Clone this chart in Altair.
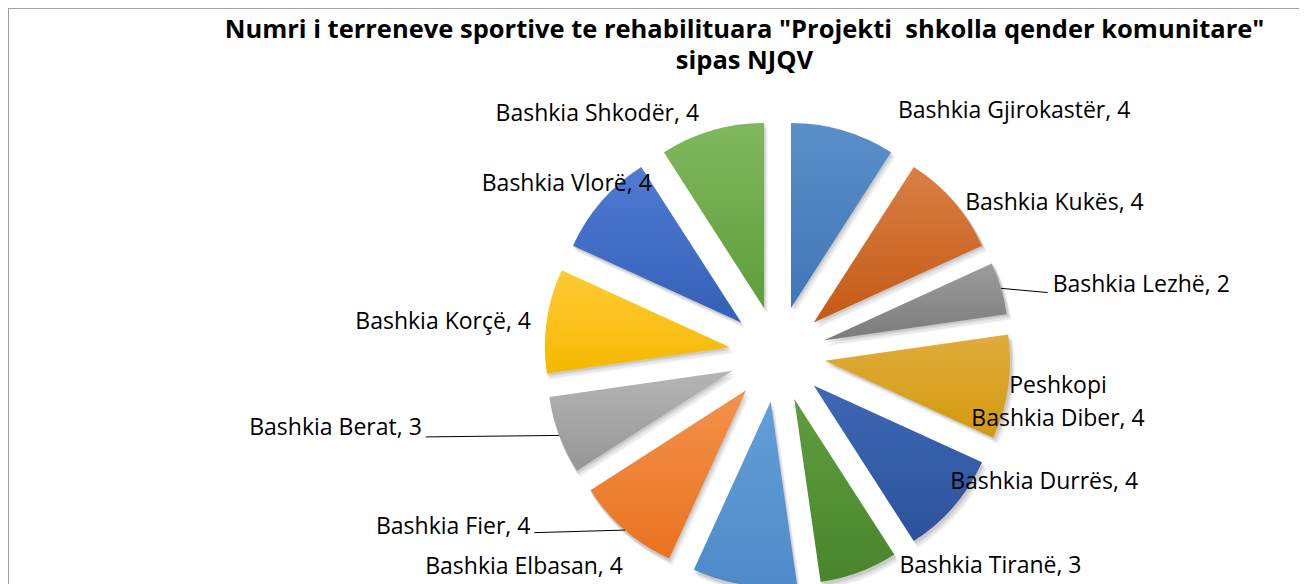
import altair as alt
import pandas as pd

# ---------------- data ----------------
categories = ["Bashkia Gjirokastër", "Bashkia Kukës", "Bashkia Lezhë",
              "Peshkopi\nBashkia Diber", "Bashkia Durrës", "Bashkia Tiranë",
              "Bashkia Elbasan", "Bashkia Fier", "Bashkia Berat",
              "Bashkia Korçë", "Bashkia Vlorë", "Bashkia Shkodër"]
values = [4, 4, 2, 4, 4, 3, 4, 4, 3, 4, 4, 4]
title_lines = ['Numri i terreneve sportive te rehabilituara "Projekti\u00a0 shkolla qender komunitare"',
               "sipas NJQV"]

# ---------------- style ----------------
top_colors = ["#5b8fcb", "#da7f45", "#9c9c9c", "#e0ac3c", "#3d68b6", "#5e9e3e",
              "#62a0d9", "#f4914c", "#b5b5b5", "#ffcb35", "#4f7cd2", "#80b85e"]
bot_colors = ["#3f76b5", "#c45a14", "#7b7b7b", "#d39a0c", "#2c529a", "#4a852c",
              "#4f8ac8", "#e9731f", "#969696", "#f5b800", "#3460b8", "#5f9e3a"]
FONT = "Open Sans"
LABEL_SIZE = 23
TITLE_SIZE = 25.5
W, H = 1291, 576
CX, CY = 769.5, 346.0     # pie centre (plot px)
R = 185                   # slice radius
EXPLODE = 48              # explosion distance
LR = 195                  # label radius from exploded centre
# label nudges (dx, dy) from the radial anchor, and alignment
NUDGE = [(52, -3, "left"), (4, 15, "left"), (42, 6, "left"), (40, 4, "center"),
         (-11, -24, "left"), (37, -9, "left"), (-120, -21, "right"),
         (-88, -4, "right"), (-128, -4, "right"), (-6, 10, "right"),
         (58, -4, "right"), (-10, 0, "right")]
LEADERS = {2: (-5, 1), 7: (4, -1), 8: (4, 2)}

df = pd.DataFrame({"cat": categories, "value": values,
                   "order": list(range(len(values)))})
df["label"] = [f"{c}, {v}" for c, v in zip(categories, values)]

base = (alt.Chart(df)
        .transform_joinaggregate(total="sum(value)")
        .transform_stack(stack="value", groupby=[], as_=["v0", "v1"],
                         sort=[alt.SortField("order", order="ascending")])
        .transform_calculate(a0="2*PI*datum.v0/datum.total",
                             a1="2*PI*datum.v1/datum.total")
        .transform_calculate(mid="(datum.a0+datum.a1)/2")
        .transform_calculate(ex=f"{CX}+{EXPLODE}*sin(datum.mid)",
                             ey=f"{CY}-{EXPLODE}*cos(datum.mid)"))

arc_enc = dict(theta=alt.Theta("a0:Q", scale=None),
               theta2=alt.Theta2("a1:Q"),
               x=alt.X("ex:Q", scale=None, axis=None),
               y=alt.Y("ey:Q", scale=None, axis=None))

layers = []
# soft shadow
for ox, oy, op in [(1, 2, 0.07), (2, 3, 0.06), (3, 5, 0.05), (4, 6, 0.04)]:
    layers.append(base.mark_arc(outerRadius=R + 1, innerRadius=0, fill="black",
                                opacity=op, xOffset=ox, yOffset=oy)
                  .encode(**arc_enc))
# slices with gradient fills
for i in range(len(values)):
    grad = alt.LinearGradient(gradient="linear",
                              stops=[alt.GradientStop(color=top_colors[i], offset=0),
                                     alt.GradientStop(color=bot_colors[i], offset=1)],
                              x1=0, x2=0, y1=0, y2=1)
    layers.append(base.transform_filter(alt.datum.order == i)
                  .mark_arc(outerRadius=R, innerRadius=0, fill=grad)
                  .encode(**arc_enc))
# labels + leader lines
for i in range(len(values)):
    dx, dy, al = NUDGE[i]
    lab = (base.transform_filter(alt.datum.order == i)
           .transform_calculate(lx=f"datum.ex+{LR}*sin(datum.mid)+({dx})",
                                ly=f"datum.ey-{LR}*cos(datum.mid)+({dy})",
                                ox=f"datum.ex+{R}*sin(datum.mid)",
                                oy=f"datum.ey-{R}*cos(datum.mid)"))
    layers.append(lab.mark_text(align=al, baseline="alphabetic", font=FONT,
                                fontSize=LABEL_SIZE, color="#000000",
                                lineBreak="\n", lineHeight=33)
                  .encode(x=alt.X("lx:Q", scale=None, axis=None),
                          y=alt.Y("ly:Q", scale=None, axis=None),
                          text="label:N"))
    if i in LEADERS:
        gx, gy = LEADERS[i]
        layers.append(lab.transform_calculate(gx=f"datum.lx+({gx})", gy=f"datum.ly+({gy})")
                      .mark_rule(color="#000000", strokeWidth=1)
                      .encode(x=alt.X("ox:Q", scale=None, axis=None),
                              y=alt.Y("oy:Q", scale=None, axis=None),
                              x2="gx:Q", y2="gy:Q"))

one = pd.DataFrame({"k": [0]})
# frame (top and left edges)
layers.append(alt.Chart(one).mark_rule(color="#a0a0a0", strokeWidth=2)
              .encode(x=alt.value(0), x2=alt.value(W), y=alt.value(0)))
layers.append(alt.Chart(one).mark_rule(color="#a0a0a0", strokeWidth=2)
              .encode(x=alt.value(0), y=alt.value(0), y2=alt.value(H)))
# title
layers.append(alt.Chart(one).mark_text(text=title_lines, align="center",
                                       baseline="alphabetic", font=FONT,
                                       fontWeight="bold", fontSize=TITLE_SIZE,
                                       lineHeight=31, color="#000000")
              .encode(x=alt.value(736.5), y=alt.value(30)))

chart = (alt.layer(*layers)
         .properties(width=W, height=H, padding=0,
                     autosize=alt.AutoSizeParams(type="none"),
                     background="white")
         .configure_view(stroke=None))

chart.save("out.html", embed_options={"renderer": "svg", "actions": False})
